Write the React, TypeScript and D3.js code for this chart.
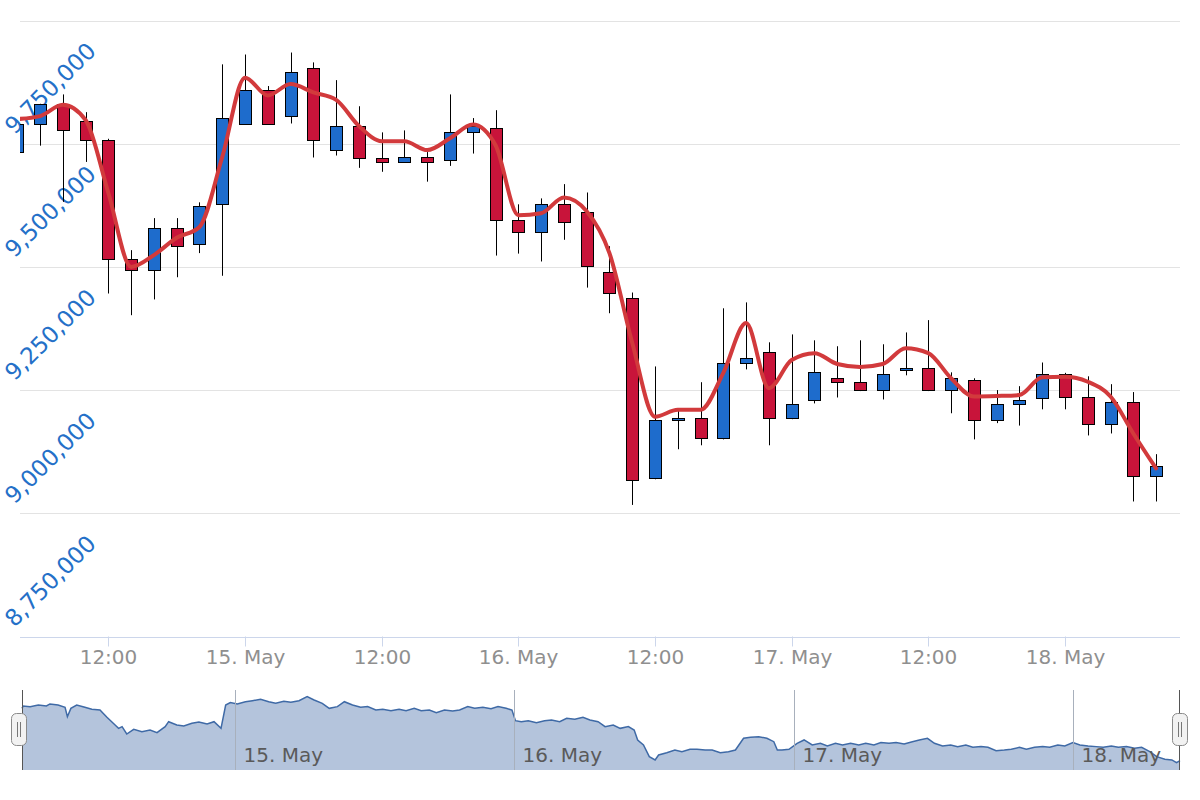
import React from 'react';
import * as d3 from 'd3';

const BASE = Date.UTC(2019, 4, 14);
const HOUR = 3600 * 1000;

// 2-hourly candles starting 14 May 04:00
const candleHours = d3.range(4, 105, 2);
const opens = [9733000, 9789000, 9830000, 9797000, 9757000, 9517000, 9493000, 9578000, 9546000, 9627000,
  9789000, 9858000, 9806000, 9903000, 9737000, 9785000, 9720000, 9712000, 9724000, 9716000,
  9773000, 9781000, 9595000, 9570000, 9627000, 9611000, 9489000, 9436000, 9071000, 9189000,
  9193000, 9152000, 9306000, 9327000, 9193000, 9229000, 9274000, 9266000, 9250000, 9290000,
  9294000, 9250000, 9270000, 9189000, 9221000, 9233000, 9282000, 9237000, 9181000, 9225000, 9075000];
const highs = [9798000, 9831000, 9850000, 9814000, 9760000, 9534000, 9599000, 9599000, 9631000, 9911000,
  9931000, 9867000, 9935000, 9915000, 9879000, 9826000, 9773000, 9777000, 9733000, 9850000,
  9802000, 9818000, 9627000, 9639000, 9668000, 9651000, 9542000, 9448000, 9298000, 9213000,
  9266000, 9416000, 9428000, 9347000, 9363000, 9351000, 9339000, 9351000, 9343000, 9367000,
  9392000, 9286000, 9274000, 9250000, 9258000, 9306000, 9285000, 9278000, 9262000, 9246000, 9120000];
const lows = [9727000, 9746000, 9632000, 9713000, 9446000, 9402000, 9434000, 9479000, 9528000, 9482000,
  9788000, 9789000, 9791000, 9722000, 9726000, 9701000, 9693000, 9711000, 9673000, 9705000,
  9730000, 9523000, 9527000, 9511000, 9555000, 9458000, 9406000, 9017000, 9069000, 9130000,
  9138000, 9150000, 9292000, 9138000, 9191000, 9223000, 9235000, 9248000, 9231000, 9280000,
  9248000, 9203000, 9150000, 9183000, 9178000, 9211000, 9211000, 9158000, 9162000, 9024000, 9024000];
const closes = [9790000, 9830000, 9777000, 9757000, 9517000, 9493000, 9578000, 9542000, 9623000, 9802000,
  9858000, 9789000, 9895000, 9757000, 9785000, 9720000, 9712000, 9724000, 9712000, 9773000,
  9785000, 9595000, 9570000, 9627000, 9591000, 9501000, 9448000, 9067000, 9189000, 9193000,
  9152000, 9306000, 9315000, 9193000, 9221000, 9286000, 9266000, 9250000, 9282000, 9294000,
  9250000, 9274000, 9189000, 9221000, 9229000, 9282000, 9237000, 9181000, 9225000, 9075000, 9095000];
const lineValues = [9800000, 9806000, 9829000, 9798000, 9650000, 9500000, 9524000, 9559000, 9581000, 9723000,
  9884000, 9848000, 9871000, 9854000, 9839000, 9786000, 9755000, 9755000, 9737000, 9761000,
  9789000, 9747000, 9605000, 9609000, 9641000, 9613000, 9528000, 9346000, 9196000, 9210000,
  9210000, 9285000, 9386000, 9254000, 9311000, 9325000, 9303000, 9297000, 9303000, 9335000,
  9325000, 9274000, 9237000, 9238000, 9240000, 9276000, 9277000, 9267000, 9237000, 9162000, 9091000];

// navigator series (hours after 14 May 00:00, value)
const navHours = [5.7, 5.8, 6.4, 7.1, 7.8, 8.1, 8.8, 9.4, 9.6, 9.9, 10.4, 11.1, 11.7, 12.4, 13.0, 13.7, 14.0, 14.3, 14.7, 15.3,
  16.0, 16.7, 17.3, 18.0, 18.3, 19.0, 19.6, 20.3, 20.9, 21.6, 22.2, 22.8, 23.2, 23.6, 24.2, 24.9, 25.5, 26.2, 26.9, 27.5,
  28.2, 28.8, 29.5, 30.2, 30.8, 31.5, 32.1, 32.8, 33.4, 34.1, 34.8, 35.4, 36.1, 36.7, 37.4, 38.1, 38.7, 39.4, 40.0, 40.7,
  41.3, 42.0, 42.7, 43.3, 44.0, 44.6, 45.3, 46.0, 46.6, 47.3, 47.8, 48.1, 48.6, 49.2, 49.9, 50.6, 51.2, 51.9, 52.5, 53.2,
  53.9, 54.5, 55.2, 55.8, 56.5, 57.1, 57.8, 58.3, 58.6, 59.1, 59.6, 60.1, 60.4, 61.1, 61.8, 62.4, 63.1, 63.7, 64.4, 65.0,
  65.7, 66.4, 67.0, 67.7, 68.3, 69.0, 69.7, 70.3, 70.6, 71.0, 71.6, 72.3, 72.9, 73.6, 74.3, 74.9, 75.6, 76.2, 76.9, 77.6,
  78.2, 78.9, 79.5, 80.2, 80.8, 81.5, 82.2, 82.8, 83.5, 84.1, 84.8, 85.5, 86.1, 86.8, 87.4, 88.1, 88.7, 89.4, 90.1, 90.7,
  91.4, 92.0, 92.7, 93.4, 94.0, 94.7, 95.3, 96.0, 96.6, 97.3, 98.0, 98.6, 99.3, 99.9, 100.6, 101.3, 101.9, 102.6, 103.2, 103.9,
  104.5, 104.9, 105.2];
const navValues = [9746000, 9776000, 9768000, 9789000, 9776000, 9802000, 9789000, 9759000, 9640000, 9746000, 9789000, 9759000, 9734000, 9725000, 9632000, 9534000, 9491000, 9513000, 9419000, 9479000,
  9449000, 9470000, 9436000, 9513000, 9576000, 9534000, 9521000, 9555000, 9572000, 9547000, 9576000, 9491000, 9789000, 9819000, 9802000, 9831000, 9844000, 9861000, 9831000, 9810000,
  9836000, 9823000, 9844000, 9895000, 9853000, 9810000, 9746000, 9768000, 9831000, 9789000, 9759000, 9768000, 9725000, 9734000, 9717000, 9734000, 9717000, 9746000, 9717000, 9725000,
  9691000, 9725000, 9712000, 9725000, 9768000, 9746000, 9759000, 9742000, 9768000, 9746000, 9725000, 9589000, 9576000, 9589000, 9564000, 9589000, 9598000, 9576000, 9619000, 9606000,
  9632000, 9598000, 9576000, 9513000, 9534000, 9491000, 9513000, 9470000, 9343000, 9279000, 9130000, 9088000, 9151000, 9181000, 9215000, 9194000, 9224000, 9224000, 9215000, 9215000,
  9181000, 9194000, 9215000, 9364000, 9377000, 9385000, 9364000, 9321000, 9215000, 9215000, 9224000, 9300000, 9343000, 9279000, 9300000, 9266000, 9300000, 9279000, 9300000, 9279000,
  9300000, 9279000, 9309000, 9300000, 9309000, 9292000, 9321000, 9343000, 9364000, 9300000, 9266000, 9279000, 9258000, 9279000, 9249000, 9258000, 9249000, 9207000, 9215000, 9224000,
  9249000, 9224000, 9249000, 9258000, 9249000, 9279000, 9266000, 9309000, 9279000, 9266000, 9258000, 9249000, 9266000, 9249000, 9258000, 9236000, 9249000, 9194000, 9130000, 9096000,
  9088000, 9054000, 9079000];

const yGridTicks = [8750000, 9000000, 9250000, 9500000, 9750000, 10000000];
const yLabelTicks = [8750000, 9000000, 9250000, 9500000, 9750000];

const toDate = (h: number) => new Date(BASE + h * HOUR);

const PL = 20, PR = 1180, PT = 20.5, PB = 636.5;
const NL = 22, NR = 1180, NT = 690, NB = 770;
const FONT = '"DejaVu Sans", Verdana, sans-serif';

export default function App() {
  const x = d3.scaleUtc().domain([toDate(4.24), toDate(106.1)]).range([PL, PR]);
  const y = d3.scaleLinear().domain([8750000, 10000000]).range([PB, PT]);
  const xn = d3.scaleUtc().domain([toDate(5.7), toDate(105.2)]).range([NL, NR]);
  const yn = d3.scaleLinear().domain([8960000, 9980000]).range([NB, NT]);

  const candles = candleHours.map((h, i) => ({
    t: toDate(h), o: opens[i], h: highs[i], l: lows[i], c: closes[i], v: lineValues[i],
  }));
  const lineGen = d3.line<any>().x(d => x(d.t)).y(d => y(d.v)).curve(d3.curveMonotoneX);
  const nav = navHours.map((h, i) => ({ t: toDate(h), v: navValues[i] }));
  const navArea = d3.area<any>().x(d => xn(d.t)).y0(NB).y1(d => yn(d.v));
  const navLine = d3.line<any>().x(d => xn(d.t)).y(d => yn(d.v));

  const xTicks = x.ticks(d3.utcHour.every(12) as any);
  const fmtX = (d: Date) => d.getUTCHours() === 0 ? d3.utcFormat('%-d. %b')(d) : d3.utcFormat('%H:%M')(d);
  const navTicks = xn.ticks(d3.utcDay.every(1) as any);
  const fmtNav = d3.utcFormat('%-d. %b');
  const fmtY = d3.format(',');

  const RED = '#c8143a';
  const BLUE = '#1e6ccc';

  return (
    <svg width={1200} height={800} style={{ position: 'absolute', left: 0, top: 0, background: '#fff' }}
      fontFamily={FONT}>
      <defs>
        <clipPath id="plotClip">
          <rect x={PL} y={0} width={PR - PL} height={PB + 1} />
        </clipPath>
      </defs>
      <rect x={0} y={0} width={1200} height={800} fill="#fff" />
      {yGridTicks.map(v => (
        <line key={v} x1={PL} x2={PR} y1={Math.round(y(v)) + 0.5} y2={Math.round(y(v)) + 0.5}
          stroke={v === 8750000 ? '#ccd6eb' : '#e3e3e3'} strokeWidth={1} />
      ))}
      {xTicks.map(t => {
        const xx = Math.round(x(t)) + 0.5;
        return (
          <g key={+t}>
            <line x1={xx} x2={xx} y1={PB} y2={PB + 10} stroke="#ccd6eb" />
            <text x={xx} y={664} textAnchor="middle" fontSize={20} fill="#8f8f8f">{fmtX(t)}</text>
          </g>
        );
      })}
      {yLabelTicks.map(v => (
        <text key={v} transform={`translate(14.5,${y(v) - 8.5}) rotate(-45)`} fontSize={23} fill="#2470c8">
          {fmtY(v)}
        </text>
      ))}
      <g clipPath="url(#plotClip)">
        {candles.map((d, i) => {
          const cx = Math.round(x(d.t)) + 0.5;
          const top = Math.round(y(Math.max(d.o, d.c))) + 0.5;
          const bot = Math.round(y(Math.min(d.o, d.c))) + 0.5;
          const up = d.c >= d.o;
          return (
            <g key={i}>
              <line x1={cx} x2={cx} y1={y(d.h)} y2={y(d.l)} stroke="#000" strokeWidth={1} />
              <rect x={cx - 6} y={top} width={12} height={Math.max(bot - top, 1)}
                fill={up ? BLUE : RED} stroke="#000" strokeWidth={1} />
            </g>
          );
        })}
        <path d={lineGen(candles) || ''} fill="none" stroke="#d23a3c" strokeWidth={4}
          strokeLinejoin="round" strokeLinecap="round" />
      </g>
      {/* navigator */}
      <path d={navArea(nav) || ''} fill="#b4c4dc" />
      <path d={navLine(nav) || ''} fill="none" stroke="#3f6aa6" strokeWidth={1.5} />
      {navTicks.map(t => {
        const xx = Math.round(xn(t)) + 0.5;
        return (
          <g key={+t}>
            <line x1={xx} x2={xx} y1={NT} y2={NB} stroke="#a8b0bc" strokeWidth={1} />
            <text x={xx + 8} y={762} fontSize={20} fill="#5a5a5a">{fmtNav(t)}</text>
          </g>
        );
      })}
      <line x1={NL + 0.5} x2={NL + 0.5} y1={NT} y2={NB} stroke="#555" strokeWidth={1} />
      <line x1={NR - 0.5} x2={NR - 0.5} y1={NT} y2={NB} stroke="#555" strokeWidth={1} />
      {[19, 1180].map(hx => (
        <g key={hx}>
          <rect x={hx - 7.5} y={713.5} width={15} height={32} rx={5} fill="#f2f2f2" stroke="#8a8a8a" strokeWidth={1} />
          <line x1={hx - 1.5} x2={hx - 1.5} y1={722} y2={737} stroke="#777" />
          <line x1={hx + 1.5} x2={hx + 1.5} y1={722} y2={737} stroke="#777" />
        </g>
      ))}
    </svg>
  );
}
